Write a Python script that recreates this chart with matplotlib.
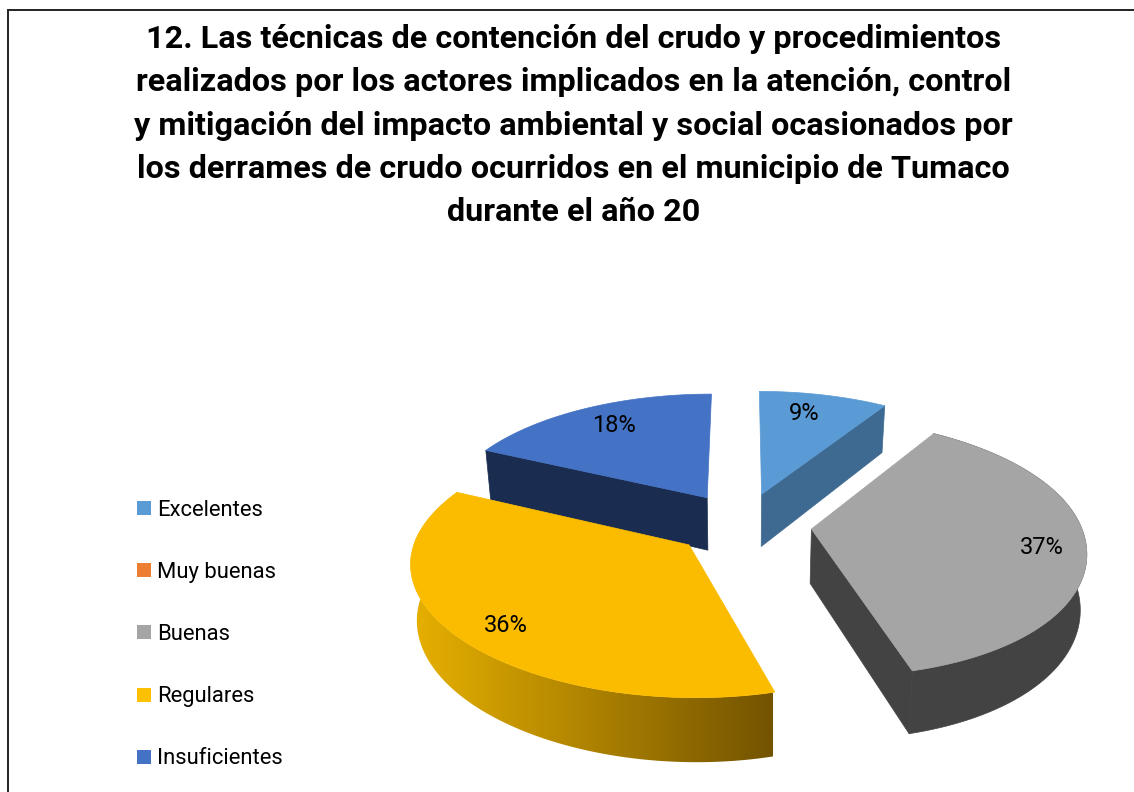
import numpy as np
import matplotlib
matplotlib.use("Agg")
import matplotlib.pyplot as plt
from matplotlib.patches import Polygon, Rectangle

categories = ["Excelentes", "Muy buenas", "Buenas", "Regulares", "Insuficientes"]
values = [9, 0, 37, 36, 18]
colors = ["#5B9BD5", "#ED7D31", "#A5A5A5", "#FBBC00", "#4472C4"]
wall_colors = ["#3E6A91", "#A0501F", "#434343", None, "#1A2C50"]
title_lines = ["12. Las técnicas de contención del crudo y procedimientos",
               "realizados por los actores implicados en la atención, control",
               "y mitigación del impacto ambiental y social ocasionados por",
               "los derrames de crudo ocurridos en el municipio de Tumaco",
               "durante el año 20"]

FONT = "Roboto"

W, H = 1134, 792
fig = plt.figure(figsize=(W / 100, H / 100), dpi=100)
ax = fig.add_axes([0, 0, 1, 1])
ax.set_xlim(0, W)
ax.set_ylim(H, 0)
ax.axis("off")

# Projection of the tilted pie plane
CX, CY, RX, RY, KX, KY, EXPLODE, DEPTH = 743, 524, 269, 125, 0.14, 0.14, 0.256, 54


def project(u, v, low=False):
    sx = 1 / (1 + KX * v)
    sy = 1 / (1 + KY * v)
    x = RX * u * sx + 12 * np.clip(-v, 0, None) ** 2
    y = -RY * v * sy
    if low:
        x = x * 0.981
        y = y + DEPTH * sy
    return CX + x, CY + y


def slice_arc(a0, a1, mid, n=120):
    t = np.linspace(a0, a1, n)
    ou, ov = EXPLODE * np.cos(mid), EXPLODE * np.sin(mid)
    return np.cos(t) + ou, np.sin(t) + ov, ou, ov


def wall_points(u, v):
    x0, y0 = project(u, v)
    x1, y1 = project(u, v, low=True)
    return np.column_stack([np.r_[x0, x1[::-1]], np.r_[y0, y1[::-1]]])


def wall(u, v, face):
    ax.add_patch(Polygon(wall_points(u, v), closed=True, fc=face, ec=face, lw=0.5))


total = sum(values)
start = np.pi / 2
spans = []
for i, val in enumerate(values):
    sweep = 2 * np.pi * val / total
    spans.append((i, start, start - sweep))
    start -= sweep

# back slices first, then the slice in front
for i in [4, 0, 2, 3]:
    _, a0, a1 = spans[i]
    mid = (a0 + a1) / 2
    u, v, ou, ov = slice_arc(a0, a1, mid)
    if wall_colors[i] is not None:
        # only the cut faces turned towards the viewer
        if np.cos(a0) < -1e-6:
            wall(np.array([ou, u[0]]), np.array([ov, v[0]]), wall_colors[i])
        if np.cos(a1) > 1e-6:
            wall(np.array([ou, u[-1]]), np.array([ov, v[-1]]), wall_colors[i])
        if np.min(np.sin(np.linspace(a0, a1, 50))) < -0.1:
            wall(u, v, wall_colors[i])
    else:
        # shaded outer wall
        poly = Polygon(wall_points(u, v), closed=True, transform=ax.transData, fc="none", ec="none")
        ax.add_patch(poly)
        g0 = np.array(matplotlib.colors.to_rgb("#E6B000"))
        g1 = np.array(matplotlib.colors.to_rgb("#735300"))
        f = np.linspace(0, 1, 256)[None, :, None]
        grad = g0[None, None, :] + (g1 - g0)[None, None, :] * f
        im = ax.imshow(grad, extent=(414, 773, H, 0), aspect="auto", interpolation="bilinear", zorder=1)
        im.set_clip_path(poly)
        ax.set_xlim(0, W)
        ax.set_ylim(H, 0)
    xt, yt = project(np.r_[ou, u], np.r_[ov, v])
    ax.add_patch(Polygon(np.column_stack([xt, yt]), closed=True, fc=colors[i], ec=colors[i], lw=0.5, zorder=2))

# data labels
label_xy = {0: (804, 414), 2: (1042, 548), 3: (506, 626), 4: (614, 425)}
for i, (lx, ly) in label_xy.items():
    ax.text(lx, ly, f"{values[i]}%", fontsize=17, family=FONT, ha="center", va="center", color="black", zorder=5)

# legend
for i, name in enumerate(categories):
    y = 508 + i * 62.2
    ax.add_patch(Rectangle((137, y - 7), 14, 14, fc=colors[i] if i != 3 else "#FFC000", ec="none"))
    ax.text(157, y + 2, name, fontsize=15.8, family=FONT, va="center", ha="left", color="black")

# title
for k, line in enumerate(title_lines):
    ax.text(573.5, 39 + k * 43.3, line, fontsize=23.3, family=FONT, fontweight="bold", ha="center", va="center",
            color="black")

# frame
ax.plot([8, 8, 1134], [792, 9.5, 9.5], color="#222222", lw=1.4, solid_joinstyle="miter")

fig.savefig("out.png", dpi=100)
